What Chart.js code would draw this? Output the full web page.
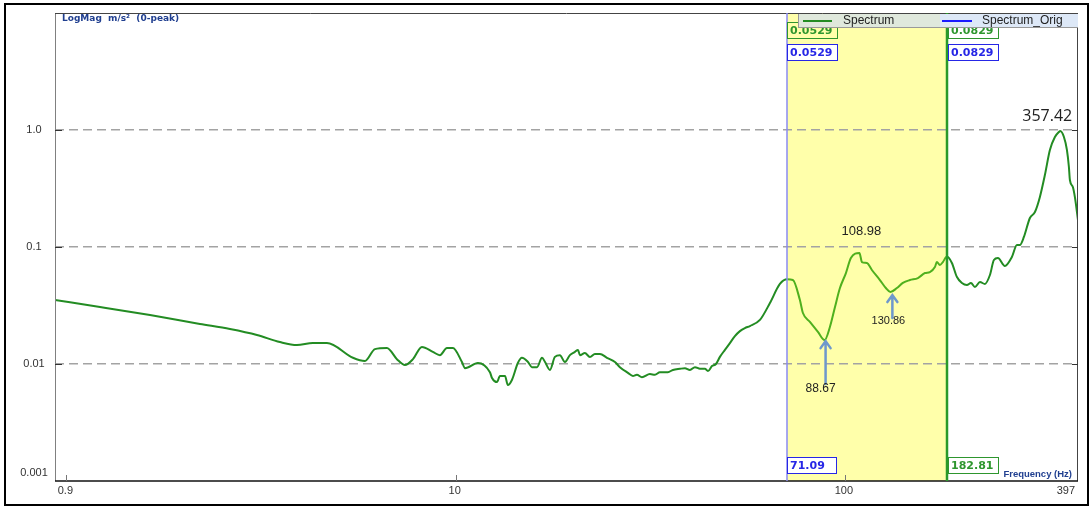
<!DOCTYPE html>
<html>
<head>
<meta charset="utf-8">
<script src="https://cdn.jsdelivr.net/npm/chart.js@4.4.1/dist/chart.umd.min.js"></script>
<style>
    html, body { margin: 0; padding: 0; background: #fff; }
</style>
</head>
<body>
<canvas id="spectrumChart" width="1092" height="508"></canvas>
<script>
const freqHz = [
    0.935, 1.22, 1.64, 2.204, 2.632, 3.087, 3.537, 3.911, 4.298, 4.67,
    5.447, 5.848, 6.205, 6.661, 7.066, 7.41, 7.77, 8.19, 8.74, 9.11,
    9.5, 9.84, 10.38, 10.57, 11.41, 12.25, 12.4, 12.77, 13.0, 13.39,
    13.62, 13.95, 14.45, 14.8, 15.34, 15.7, 16.18, 16.67, 16.97, 17.47,
    17.99, 18.53, 19.09, 19.66, 20.25, 20.62, 20.86, 21.48, 22.13, 22.79,
    23.48, 24.47, 25.66, 26.42, 27.71, 28.54, 29.22, 30.1, 31.56, 32.51,
    33.48, 35.1, 36.15, 37.69, 38.82, 39.99, 41.19, 42.42, 43.7, 44.48,
    45.55, 46.64, 47.74, 49.18, 50.65, 52.17, 53.74, 55.35, 57.02, 60.49,
    64.18, 68.08, 71.09, 73.51, 76.63, 78.01, 81.3, 85.25, 88.67, 91.5,
    94.3, 97.1, 100.6, 103.6, 108.98, 110.6, 113.9, 117.3, 123.0, 127.4,
    130.86, 136.0, 140.9, 146.9, 154.0, 160.6, 165.3, 170.3, 172.3, 175.4,
    178.5, 182.81, 188.3, 194.0, 199.8, 205.8, 210.8, 215.8, 222.3, 228.9,
    235.8, 241.4, 247.2, 257.6, 268.5, 276.6, 281.5, 288.3, 298.7, 307.7,
    316.9, 326.4, 336.2, 346.3, 354.6, 357.42, 365.3, 371.8, 376.2, 378.4,
    385.1, 389.7, 397
];
const magnitude = [
    0.0352, 0.0307, 0.0262, 0.0220, 0.0199, 0.0177, 0.0154, 0.0145, 0.0151, 0.0151,
    0.0113, 0.0106, 0.0134, 0.0137, 0.0110, 0.0098, 0.0110, 0.0140, 0.0127, 0.0119,
    0.0137, 0.0137, 0.0104, 0.0092, 0.0102, 0.0085, 0.0076, 0.0070, 0.0079, 0.0079,
    0.0066, 0.0073, 0.0102, 0.0113, 0.0104, 0.0094, 0.0094, 0.0113, 0.0104, 0.0089,
    0.0115, 0.0119, 0.0104, 0.0119, 0.0127, 0.0132, 0.0119, 0.0124, 0.0115, 0.0122,
    0.0122, 0.0113, 0.0104, 0.0094, 0.0084, 0.0079, 0.0081, 0.0077, 0.0082, 0.0081,
    0.0085, 0.0085, 0.0089, 0.0091, 0.0092, 0.0089, 0.0094, 0.0091, 0.0091, 0.0087,
    0.0096, 0.0100, 0.0115, 0.0132, 0.0151, 0.0173, 0.0191, 0.0203, 0.0211, 0.0238,
    0.0332, 0.0483, 0.0529, 0.0522, 0.0352, 0.0273, 0.0229, 0.0188, 0.0160, 0.0207,
    0.0307, 0.0446, 0.0599, 0.0805, 0.0889, 0.0744, 0.0730, 0.0636, 0.0522, 0.0446,
    0.0412, 0.0446, 0.0493, 0.0522, 0.0543, 0.0599, 0.0611, 0.0675, 0.0744, 0.0702,
    0.0744, 0.0829, 0.0730, 0.0554, 0.0493, 0.0474, 0.0493, 0.0455, 0.0502, 0.0483,
    0.0576, 0.0774, 0.0805, 0.0688, 0.0821, 0.1040, 0.1040, 0.1218, 0.177, 0.199,
    0.268, 0.4125, 0.675, 0.871, 0.961, 0.980, 0.871, 0.675, 0.483, 0.374,
    0.326, 0.268, 0.170
];

const xTickValues = [1, 10, 100, 397];
const xTickLabels = ['0.9', '10', '100', '397'];
const yTickValues = [0.001, 0.01, 0.1, 1];
const yTickLabels = ['0.001', '0.01', '0.1', '1.0'];

const cursorFreqs = [71.09, 182.81];
const cursorFreqLabels = ['71.09', '182.81'];
const cursorSpectrum = ['0.0529', '0.0829'];
const cursorOrig = ['0.0529', '0.0829'];

const peakFreqs = [357.42, 108.98, 88.67, 130.86];
const peakMags = [0.98, 0.0889, 0.016, 0.0412];
const peakLabels = ['357.42', '108.98', '88.67', '130.86'];

const seriesNames = ['Spectrum', 'Spectrum_Orig'];

const GREEN = '#238c23';
const GREEN_BAND = '#4fb01e';
const BOX_GREEN = '#2e962e';
const BOX_BLUE = '#2626e6';
const TITLE_BLUE = '#203f90';
const ARROW = '#6e98cc';

function inBand(f) {
    return f >= cursorFreqs[0] - 0.01 && f <= cursorFreqs[1] + 0.01;
}

function drawBox(ctx, x, y, w, h, text, color, fill) {
    if (fill) {
        ctx.fillStyle = fill;
        ctx.fillRect(x, y, w, h);
    }
    ctx.strokeStyle = color;
    ctx.lineWidth = 1;
    ctx.strokeRect(x + 0.5, y + 0.5, w, h);
    ctx.fillStyle = color;
    ctx.font = 'bold 11px "DejaVu Sans"';
    ctx.textAlign = 'left';
    ctx.textBaseline = 'middle';
    ctx.fillText(text, x + 3, y + h / 2 + 1);
}

function drawArrow(ctx, x, yTip, yTail) {
    ctx.strokeStyle = ARROW;
    ctx.lineWidth = 2.5;
    ctx.lineCap = 'round';
    ctx.beginPath();
    ctx.moveTo(x, yTail);
    ctx.lineTo(x, yTip);
    ctx.moveTo(x - 5, yTip + 7);
    ctx.lineTo(x, yTip);
    ctx.lineTo(x + 5, yTip + 7);
    ctx.stroke();
}

const overlayPlugin = {
    id: 'spectrumOverlay',
    beforeDraw(chart) {
        const { ctx, chartArea: a, scales: { x } } = chart;
        ctx.save();
        ctx.fillStyle = '#fff';
        ctx.fillRect(0, 0, chart.width, chart.height);

        const xl = x.getPixelForValue(cursorFreqs[0]);
        const xr = x.getPixelForValue(cursorFreqs[1]);
        ctx.fillStyle = '#ffffaa';
        ctx.fillRect(xl, a.top, xr - xl, a.bottom - a.top);
        ctx.restore();
    },
    afterDatasetsDraw(chart) {
        const { ctx, chartArea: a, scales: { x, y } } = chart;
        ctx.save();

        // plot frame
        ctx.lineWidth = 1;
        ctx.strokeStyle = '#808080';
        ctx.beginPath();
        ctx.moveTo(a.left + 0.5, a.top);
        ctx.lineTo(a.left + 0.5, a.bottom);
        ctx.stroke();
        ctx.strokeStyle = '#444';
        ctx.beginPath();
        ctx.moveTo(a.left, a.top + 0.5);
        ctx.lineTo(a.right, a.top + 0.5);
        ctx.moveTo(a.right - 0.5, a.top);
        ctx.lineTo(a.right - 0.5, a.bottom);
        ctx.stroke();
        ctx.strokeStyle = '#111';
        ctx.lineWidth = 1.5;
        ctx.beginPath();
        ctx.moveTo(a.left, a.bottom);
        ctx.lineTo(a.right, a.bottom);
        ctx.stroke();

        // small tick marks
        ctx.lineWidth = 1;
        ctx.strokeStyle = '#333';
        yTickValues.forEach((v, i) => {
            if (i === 0) return;
            const py = Math.round(y.getPixelForValue(v)) + 0.5;
            ctx.beginPath();
            ctx.moveTo(a.left, py);
            ctx.lineTo(a.left + 7, py);
            ctx.moveTo(a.right - 6, py);
            ctx.lineTo(a.right, py);
            ctx.stroke();
        });
        ctx.strokeStyle = '#777';
        xTickValues.slice(0, 3).forEach(v => {
            const px = Math.round(x.getPixelForValue(v)) + 0.5;
            ctx.beginPath();
            ctx.moveTo(px, a.bottom);
            ctx.lineTo(px, a.bottom - 6);
            ctx.stroke();
        });

        // axis labels
        ctx.fillStyle = '#333';
        ctx.font = '11px "Liberation Sans"';
        ctx.textBaseline = 'middle';
        yTickLabels.forEach((label, i) => {
            let py = y.getPixelForValue(yTickValues[i]);
            if (i === 0) py -= 8;
            ctx.textAlign = 'center';
            ctx.fillText(label, 34, py);
        });
        xTickLabels.forEach((label, i) => {
            const px = x.getPixelForValue(xTickValues[i]);
            if (i === xTickLabels.length - 1) {
                ctx.textAlign = 'right';
                ctx.fillText(label, px - 3, 491);
            } else {
                ctx.textAlign = 'center';
                ctx.fillText(label, px - 1, 491);
            }
        });

        ctx.fillStyle = TITLE_BLUE;
        ctx.font = 'bold 9px "DejaVu Sans"';
        ctx.textAlign = 'left';
        ctx.fillText('LogMag  m/s²  (0-peak)', a.left + 7, a.top + 6);
        ctx.font = 'bold 9.5px "Liberation Sans"';
        ctx.textAlign = 'right';
        ctx.fillText('Frequency (Hz)', a.right - 6, a.bottom - 7);

        // cursors
        const xl = Math.round(x.getPixelForValue(cursorFreqs[0]));
        const xr = Math.round(x.getPixelForValue(cursorFreqs[1]));
        ctx.strokeStyle = '#8a8af0';
        ctx.lineWidth = 1.5;
        ctx.beginPath();
        ctx.moveTo(xl, a.top);
        ctx.lineTo(xl, a.bottom);
        ctx.stroke();
        ctx.strokeStyle = '#2a9a2a';
        ctx.lineWidth = 2.5;
        ctx.beginPath();
        ctx.moveTo(xr, a.top);
        ctx.lineTo(xr, a.bottom);
        ctx.stroke();

        drawBox(ctx, xl, 22, 50, 16, cursorSpectrum[0], BOX_GREEN, null);
        drawBox(ctx, xl, 44, 50, 16, cursorOrig[0], BOX_BLUE, '#fff');
        drawBox(ctx, xr + 1, 22, 50, 16, cursorSpectrum[1], BOX_GREEN, '#fff');
        drawBox(ctx, xr + 1, 44, 50, 16, cursorOrig[1], BOX_BLUE, '#fff');
        drawBox(ctx, xl, 457, 49, 16, cursorFreqLabels[0], BOX_BLUE, '#fff');
        drawBox(ctx, xr + 1, 457, 50, 16, cursorFreqLabels[1], BOX_GREEN, '#fff');

        // legend strip
        const lx = 798, ly = a.top + 1, lw = a.right - lx, lh = 13;
        ctx.fillStyle = '#dfe8dc';
        ctx.fillRect(lx, ly, 142, lh);
        ctx.fillStyle = '#dde8f7';
        ctx.fillRect(lx + 142, ly, lw - 142, lh);
        ctx.strokeStyle = '#999';
        ctx.lineWidth = 1;
        ctx.beginPath();
        ctx.moveTo(lx, ly + lh + 0.5);
        ctx.lineTo(a.right, ly + lh + 0.5);
        ctx.moveTo(lx + 0.5, ly);
        ctx.lineTo(lx + 0.5, ly + lh);
        ctx.stroke();
        ctx.lineWidth = 2;
        ctx.strokeStyle = GREEN;
        ctx.beginPath();
        ctx.moveTo(lx + 5, ly + 7);
        ctx.lineTo(lx + 34, ly + 7);
        ctx.stroke();
        ctx.strokeStyle = '#1a1aff';
        ctx.beginPath();
        ctx.moveTo(lx + 144, ly + 7);
        ctx.lineTo(lx + 174, ly + 7);
        ctx.stroke();
        ctx.fillStyle = '#222';
        ctx.font = '12px "Liberation Sans"';
        ctx.textAlign = 'left';
        ctx.fillText(seriesNames[0], lx + 45, ly + 7);
        ctx.fillText(seriesNames[1], lx + 184, ly + 7);

        // peak annotations
        const pk = peakFreqs.map((f, i) => ({
            px: x.getPixelForValue(f),
            py: y.getPixelForValue(peakMags[i]),
        }));
        ctx.fillStyle = '#222';
        ctx.textAlign = 'center';
        ctx.font = '16px "Open Sans"';
        ctx.fillText(peakLabels[0], pk[0].px - 13, pk[0].py - 15);
        ctx.font = '13px "Liberation Sans"';
        ctx.fillText(peakLabels[1], pk[1].px + 2, pk[1].py - 22);

        drawArrow(ctx, pk[2].px + 1, pk[2].py + 1, pk[2].py + 44);
        drawArrow(ctx, pk[3].px + 2, pk[3].py + 3, pk[3].py + 26);
        ctx.fillStyle = '#222';
        ctx.font = '12px "Liberation Sans"';
        ctx.fillText(peakLabels[2], pk[2].px - 4, pk[2].py + 49);
        ctx.font = '11px "Liberation Sans"';
        ctx.fillText(peakLabels[3], pk[3].px - 2, pk[3].py + 29);

        // outer frame
        ctx.strokeStyle = '#000';
        ctx.lineWidth = 2;
        ctx.strokeRect(5, 4, 1083, 501);

        ctx.restore();
    },
};

const points = freqHz.map((f, i) => ({ x: f, y: magnitude[i] }));

new Chart(document.getElementById('spectrumChart'), {
    type: 'line',
    data: {
        datasets: [{
            label: seriesNames[0],
            data: points,
            borderColor: GREEN,
            borderWidth: 2,
            pointRadius: 0,
            fill: false,
            cubicInterpolationMode: 'monotone',
            segment: {
                borderColor: ctx => (inBand(ctx.p0.parsed.x) && inBand(ctx.p1.parsed.x)) ? GREEN_BAND : GREEN,
            },
        }],
    },
    options: {
        responsive: false,
        animation: false,
        layout: {
            padding: { left: 5, top: 13, right: 14, bottom: 27 },
        },
        plugins: {
            legend: { display: false },
            tooltip: { enabled: false },
        },
        scales: {
            x: {
                type: 'logarithmic',
                min: 0.935,
                max: 397,
                display: false,
            },
            y: {
                type: 'logarithmic',
                min: 0.001,
                max: 10,
                afterBuildTicks: scale => {
                    scale.ticks = yTickValues.map(v => ({ value: v }));
                },
                afterFit: scale => {
                    scale.width = 50;
                },
                ticks: { display: false },
                border: { display: false, dash: [9, 5] },
                grid: {
                    drawTicks: false,
                    lineWidth: 1.5,
                    color: ctx => (ctx.tick && ctx.tick.value > 0.002 && ctx.tick.value < 2) ? '#a3a3a3' : 'transparent',
                },
            },
        },
    },
    plugins: [overlayPlugin],
});
</script>
</body>
</html>
